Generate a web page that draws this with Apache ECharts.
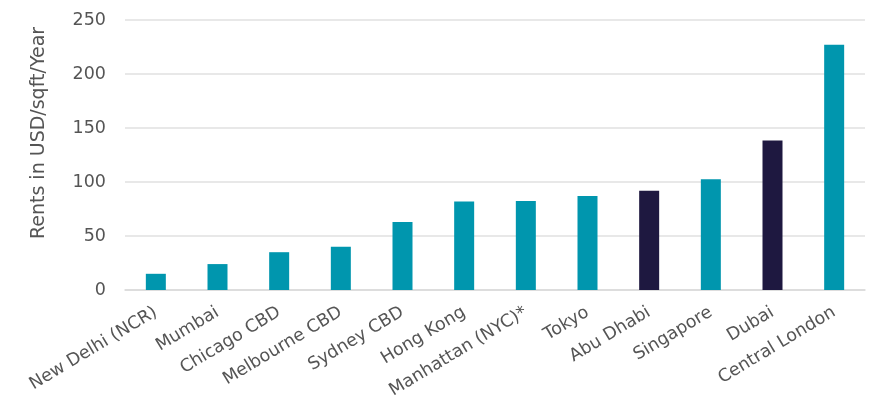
<!DOCTYPE html>
<html><head><meta charset="utf-8">
<script src="https://cdn.jsdelivr.net/npm/echarts@6/dist/echarts.min.js"></script>
<style>html,body{margin:0;padding:0;background:#fff}#c{width:869px;height:405px}</style>
</head><body><div id="c"></div>
<script>
const categories = ["New Delhi (NCR)","Mumbai","Chicago CBD","Melbourne CBD","Sydney CBD","Hong Kong","Manhattan (NYC)*","Tokyo","Abu Dhabi","Singapore","Dubai","Central London"];
const rents = [15, 24, 35, 40, 63, 82, 82.5, 87, 92, 102.5, 138.5, 227];
const highlighted = ["Abu Dhabi","Dubai"];
const yTicks = {min:0, max:250, interval:50};
const TEAL = '#0096AE', NAVY = '#1E1840';
const FONT = 'DejaVu Sans';
const chart = echarts.init(document.getElementById('c'));
chart.setOption({
  animation:false,
  grid:{left:125,right:4,top:20,bottom:115},
  textStyle:{fontFamily:FONT},
  xAxis:{type:'category',data:categories,
    axisLine:{lineStyle:{color:'#d9d9d9',width:1.5}},axisTick:{show:false},
    axisLabel:{rotate:31,color:'#555555',fontSize:17.5,margin:21,interval:0,fontFamily:FONT}},
  yAxis:{type:'value',min:yTicks.min,max:yTicks.max,interval:yTicks.interval,
    name:'Rents in USD/sqft/Year',nameLocation:'middle',nameGap:76,
    nameTextStyle:{color:'#555555',fontSize:19,fontFamily:FONT,padding:[0,0,0,44]},
    axisLine:{show:false},axisTick:{show:false},
    splitLine:{lineStyle:{color:'#e0e0e0',width:1.5}},
    axisLabel:{color:'#555555',fontSize:17.5,margin:19,fontFamily:FONT}},
  series:[{type:'bar',barWidth:20,
    data:rents.map((v,i)=>({value:v,itemStyle:{color:highlighted.includes(categories[i])?NAVY:TEAL}}))}]
});
</script></body></html>
